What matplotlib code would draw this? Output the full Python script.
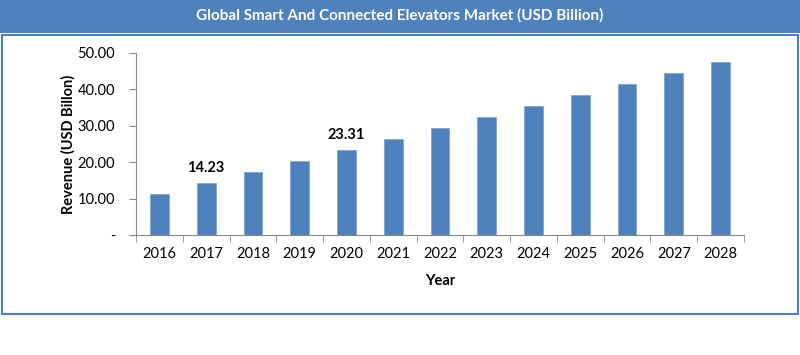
import matplotlib.pyplot as plt
from matplotlib.patches import Rectangle

years = ['2016', '2017', '2018', '2019', '2020', '2021', '2022',
         '2023', '2024', '2025', '2026', '2027', '2028']
revenue = [11.25, 14.23, 17.2, 20.3, 23.31, 26.35, 29.4,
           32.4, 35.4, 38.5, 41.5, 44.5, 47.5]
labelled = {'2017': '14.23', '2020': '23.31'}
yticks = [0, 10, 20, 30, 40, 50]
ytick_labels = ['-', '10.00', '20.00', '30.00', '40.00', '50.00']

plt.rcParams['font.family'] = ['Lato', 'DejaVu Sans']
blue = '#4F81BD'
W, H = 800, 355

fig = plt.figure(figsize=(8, 3.55), dpi=100)
fig.patch.set_facecolor('white')

# title bar and frame
fig.add_artist(Rectangle((0, 1 - 33 / H), 1, 33 / H, transform=fig.transFigure,
                         facecolor=blue, edgecolor='none'))
fig.add_artist(Rectangle((1.5 / W, 1 - 314 / H), 796 / W, 279 / H,
                         transform=fig.transFigure, facecolor='none',
                         edgecolor=blue, lw=1.5))
fig.text(0.5, 1 - 15 / H, 'Global Smart And Connected Elevators Market (USD Billion)',
         color='white', fontsize=11, fontweight='bold', ha='center', va='center')

ax = fig.add_axes([136 / W, 1 - 235 / H, 608 / W, 182 / H])
x = range(len(years))
ax.bar(x, revenue, width=0.4, color=blue, edgecolor='#7FA3D1', linewidth=0.6)
for i, (y, v) in enumerate(zip(years, revenue)):
    if y in labelled:
        ax.text(i, v + 2.3, labelled[y], ha='center', va='bottom',
                fontsize=10.5, fontweight='bold')

ax.set_xlim(-0.5, len(years) - 0.5)
ax.set_ylim(0, 50)
ax.set_yticks(yticks)
ax.set_yticklabels(ytick_labels)
ax.set_xticks(list(x))
ax.set_xticklabels(years)
ax.set_xticks([i - 0.5 for i in range(len(years) + 1)], minor=True)
ax.tick_params(axis='x', which='major', length=0, pad=9, labelsize=10.5)
ax.tick_params(axis='x', which='minor', length=5, color='#888888', direction='out')
ax.tick_params(axis='y', length=5, color='#888888', pad=10, labelsize=10.5)
for s in ['top', 'right']:
    ax.spines[s].set_visible(False)
for s in ['left', 'bottom']:
    ax.spines[s].set_color('#888888')
ax.set_xlabel('Year', fontsize=10.5, fontweight='bold', labelpad=9)
ax.set_ylabel('Revenue (USD Billon)', fontsize=10.5, fontweight='bold')
ax.yaxis.set_label_coords(-0.100, 0.5)

fig.savefig('out.png', dpi=100, facecolor='white')
